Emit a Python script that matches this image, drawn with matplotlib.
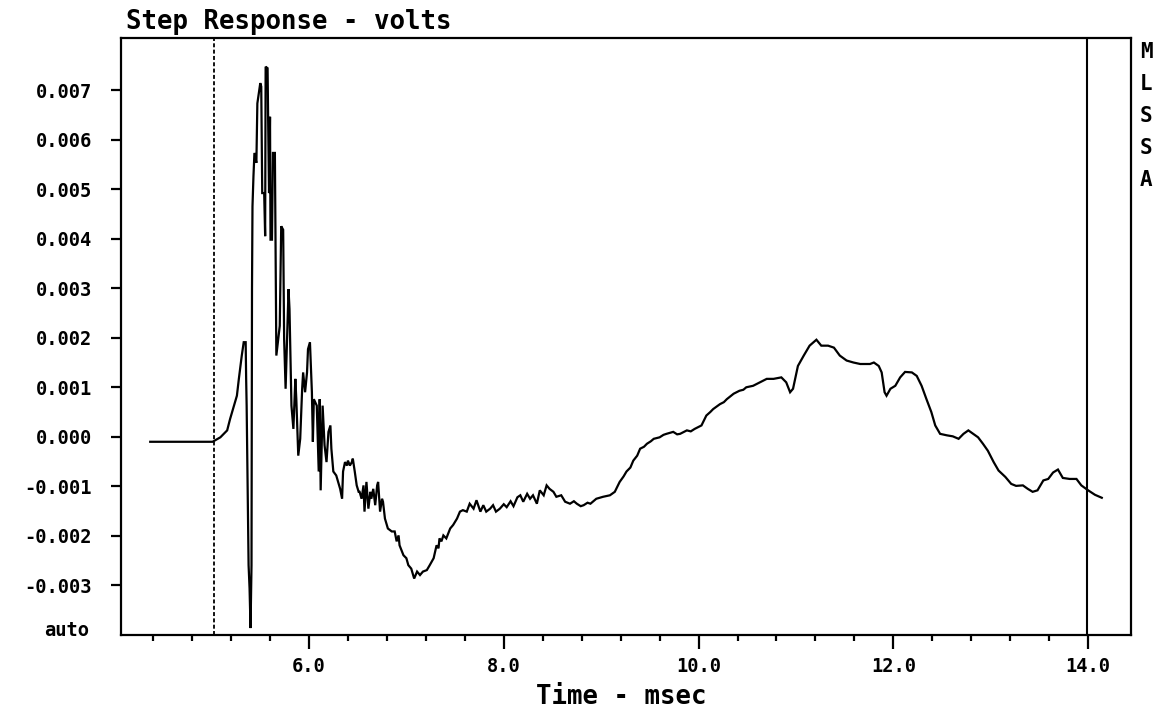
import numpy as np
import matplotlib
matplotlib.use("Agg")
import matplotlib.pyplot as plt
from matplotlib.ticker import FixedLocator

# Step response trace: time in ms, amplitude in mV
time_ms = [
    4.37, 5.01, 5.09, 5.16, 5.19, 5.23, 5.26, 5.28, 5.31, 5.33, 5.35, 5.355, 5.36,
    5.38, 5.39, 5.40, 5.41, 5.415, 5.42, 5.43, 5.44, 5.46, 5.47, 5.50, 5.51, 5.52,
    5.54, 5.55, 5.555, 5.575, 5.58, 5.59, 5.60, 5.605, 5.62, 5.63, 5.65, 5.665,
    5.70, 5.715, 5.735, 5.745, 5.76, 5.79, 5.80, 5.82, 5.84, 5.86, 5.87, 5.89,
    5.91, 5.93, 5.94, 5.96, 5.98, 5.99, 6.01, 6.03, 6.04, 6.05, 6.08, 6.10, 6.11,
    6.12, 6.14, 6.16, 6.18, 6.20, 6.22, 6.23, 6.25, 6.28, 6.32, 6.34, 6.35, 6.37,
    6.39, 6.40, 6.42, 6.44, 6.45, 6.47, 6.49, 6.51, 6.52, 6.54, 6.56, 6.57, 6.59,
    6.61, 6.63, 6.64, 6.66, 6.68, 6.70, 6.71, 6.73, 6.75, 6.76, 6.78, 6.81, 6.85,
    6.88, 6.90, 6.92, 6.93, 6.97, 7.00, 7.02, 7.05, 7.08, 7.11, 7.14, 7.17, 7.21,
    7.24, 7.28, 7.31, 7.33, 7.34, 7.36, 7.38, 7.41, 7.45, 7.48, 7.52, 7.55, 7.58,
    7.62, 7.65, 7.69, 7.72, 7.76, 7.79, 7.82, 7.86, 7.89, 7.92, 7.96, 8.00, 8.03,
    8.07, 8.10, 8.14, 8.17, 8.20, 8.24, 8.27, 8.30, 8.34, 8.37, 8.41, 8.44, 8.47,
    8.51, 8.54, 8.59, 8.63, 8.68, 8.72, 8.75, 8.79, 8.82, 8.86, 8.89, 8.95, 9.02,
    9.09, 9.14, 9.19, 9.23, 9.26, 9.30, 9.33, 9.37, 9.40, 9.44, 9.47, 9.51, 9.54,
    9.60, 9.64, 9.67, 9.74, 9.78, 9.81, 9.88, 9.92, 9.96, 10.03, 10.08, 10.12,
    10.15, 10.22, 10.26, 10.29, 10.36, 10.42, 10.46, 10.49, 10.56, 10.63, 10.70,
    10.77, 10.85, 10.90, 10.94, 10.97, 11.02, 11.08, 11.14, 11.21, 11.26, 11.33,
    11.39, 11.45, 11.52, 11.59, 11.66, 11.76, 11.80, 11.85, 11.88, 11.91, 11.93,
    11.97, 12.02, 12.07, 12.12, 12.19, 12.24, 12.29, 12.34, 12.39, 12.43, 12.48,
    12.55, 12.61, 12.67, 12.72, 12.77, 12.82, 12.87, 12.92, 12.97, 13.03, 13.08,
    13.15, 13.21, 13.26, 13.33, 13.38, 13.43, 13.48, 13.54, 13.59, 13.64, 13.69,
    13.74, 13.81, 13.88, 13.93, 14.00, 14.07, 14.14,
]
step_mv = [
    -0.10, -0.10, -0.01, 0.13, 0.36, 0.63, 0.83, 1.17, 1.64, 1.91, 1.91, 1.17, 0.63,
    -2.59, -3.06, -3.86, -2.59, 2.98, 4.65, 5.26, 5.73, 5.53, 6.73, 7.14, 7.07, 4.92,
    4.92, 4.05, 7.47, 7.44, 6.53, 4.92, 6.46, 3.98, 3.98, 5.73, 5.73, 1.64,
    2.24, 4.25, 4.18, 1.97, 0.97, 2.98, 2.58, 0.63, 0.16, 1.17, 0.76, -0.38,
    -0.04, 0.97, 1.30, 0.90, 1.30, 1.77, 1.91, 0.90, -0.10, 0.76, 0.63, -0.70, 0.76,
    -1.08, 0.63, -0.17, -0.51, 0.10, 0.23, -0.24, -0.70, -0.78, -1.05, -1.25, -0.70, -0.51,
    -0.58, -0.48, -0.58, -0.51, -0.44, -0.70, -0.98, -1.11, -1.11, -1.25, -0.98, -1.51, -0.91,
    -1.45, -1.11, -1.25, -1.05, -1.38, -0.98, -0.91, -1.51, -1.25, -1.31, -1.65, -1.85, -1.91,
    -1.91, -2.11, -1.99, -2.19, -2.39, -2.45, -2.59, -2.66, -2.86, -2.72, -2.79, -2.72, -2.69,
    -2.59, -2.45, -2.19, -2.25, -2.05, -2.11, -1.99, -2.05, -1.85, -1.78, -1.65, -1.51, -1.48,
    -1.51, -1.35, -1.45, -1.28, -1.51, -1.38, -1.51, -1.45, -1.38, -1.51, -1.45, -1.36, -1.42,
    -1.30, -1.40, -1.22, -1.18, -1.31, -1.15, -1.25, -1.18, -1.35, -1.08, -1.18, -0.98, -1.05,
    -1.11, -1.21, -1.18, -1.31, -1.35, -1.30, -1.35, -1.40, -1.38, -1.33, -1.35, -1.25, -1.21,
    -1.18, -1.11, -0.91, -0.80, -0.70, -0.62, -0.48, -0.38, -0.24, -0.20, -0.14, -0.09, -0.04,
    -0.01, 0.04, 0.06, 0.10, 0.05, 0.06, 0.13, 0.11, 0.16, 0.23, 0.43, 0.50,
    0.56, 0.66, 0.70, 0.76, 0.87, 0.93, 0.95, 1.00, 1.03, 1.10, 1.17,
    1.17, 1.20, 1.10, 0.90, 0.97, 1.43, 1.64, 1.84, 1.96, 1.84, 1.84,
    1.80, 1.64, 1.54, 1.50, 1.47, 1.47, 1.50, 1.43, 1.30, 0.90, 0.83,
    0.97, 1.03, 1.20, 1.31, 1.30, 1.23, 1.03, 0.76, 0.50, 0.23, 0.06,
    0.03, 0.01, -0.04, 0.06, 0.13, 0.06, -0.01, -0.14, -0.28, -0.51, -0.68,
    -0.81, -0.95, -0.99, -0.98, -1.05, -1.11, -1.08, -0.88, -0.85, -0.72, -0.66,
    -0.83, -0.85, -0.85, -0.98, -1.08, -1.17, -1.23,
]

trigger_ms = 5.02
cursor_ms = 13.99

y_ticks = [-0.003, -0.002, -0.001, 0.000, 0.001, 0.002, 0.003, 0.004, 0.005, 0.006, 0.007]
y_labels = ["-0.003", "-0.002", "-0.001", "0.000", "0.001", "0.002",
            "0.003", "0.004", "0.005", "0.006", "0.007"]
x_major = [6.0, 8.0, 10.0, 12.0, 14.0]
x_labels = ["6.0", "8.0", "10.0", "12.0", "14.0"]
x_minor = [4.4, 4.8, 5.2, 5.6, 6.4, 6.8, 7.2, 7.6, 8.4, 8.8, 9.2, 9.6,
           10.4, 10.8, 11.2, 11.6, 12.4, 12.8, 13.2, 13.6]

FONT = "DejaVu Sans Mono"
W, H = 1160, 717

fig = plt.figure(figsize=(W / 100, H / 100), dpi=100)
left, right, top, bottom = 121, 1131, 38, 635
ax = fig.add_axes([left / W, 1 - bottom / H, (right - left) / W, (bottom - top) / H])

volts = np.array(step_mv) / 1000.0
ax.plot(time_ms, volts, color="black", lw=1.6, solid_joinstyle="miter")

ax.axvline(trigger_ms, color="black", lw=1.3, linestyle=(0, (2.2, 1.3)))
ax.axvline(cursor_ms, color="black", lw=1.5)

ax.set_xlim(4.07, 14.44)
ax.set_ylim(-0.004, 0.00805)

for s in ax.spines.values():
    s.set_linewidth(1.6)

ax.xaxis.set_major_locator(FixedLocator(x_major))
ax.set_xticklabels(x_labels)
ax.xaxis.set_minor_locator(FixedLocator(x_minor))
ax.yaxis.set_major_locator(FixedLocator(y_ticks))
ax.set_yticklabels(y_labels)
ax.yaxis.set_minor_locator(FixedLocator([]))

ax.tick_params(axis="x", which="major", direction="out", length=10, width=1.6,
               pad=6, labelsize=13.5)
ax.tick_params(axis="x", which="minor", direction="out", length=4, width=1.6)
ax.tick_params(axis="y", which="major", direction="out", length=7, width=1.6,
               pad=14, labelsize=13.5)

for lab in ax.get_xticklabels() + ax.get_yticklabels():
    lab.set_fontfamily(FONT)
    lab.set_fontweight("bold")

# bottom-of-scale marker
fig.text(89 / W, 1 - 631 / H, "auto", ha="right", va="center",
         fontsize=13.5, fontweight="bold", family=FONT)

fig.text(126 / W, 1 - 29 / H, "Step Response - volts", ha="left", va="baseline",
         fontsize=18.5, fontweight="bold", family=FONT)
fig.text(621 / W, 1 - 697 / H, "Time - msec", ha="center", va="center",
         fontsize=18.5, fontweight="bold", family=FONT)

for i, ch in enumerate("MLSSA"):
    fig.text(1146 / W, 1 - (52 + i * 32) / H, ch, ha="center", va="center",
             fontsize=15, fontweight="bold", family=FONT)

fig.savefig("out.png", dpi=100, facecolor="white")
